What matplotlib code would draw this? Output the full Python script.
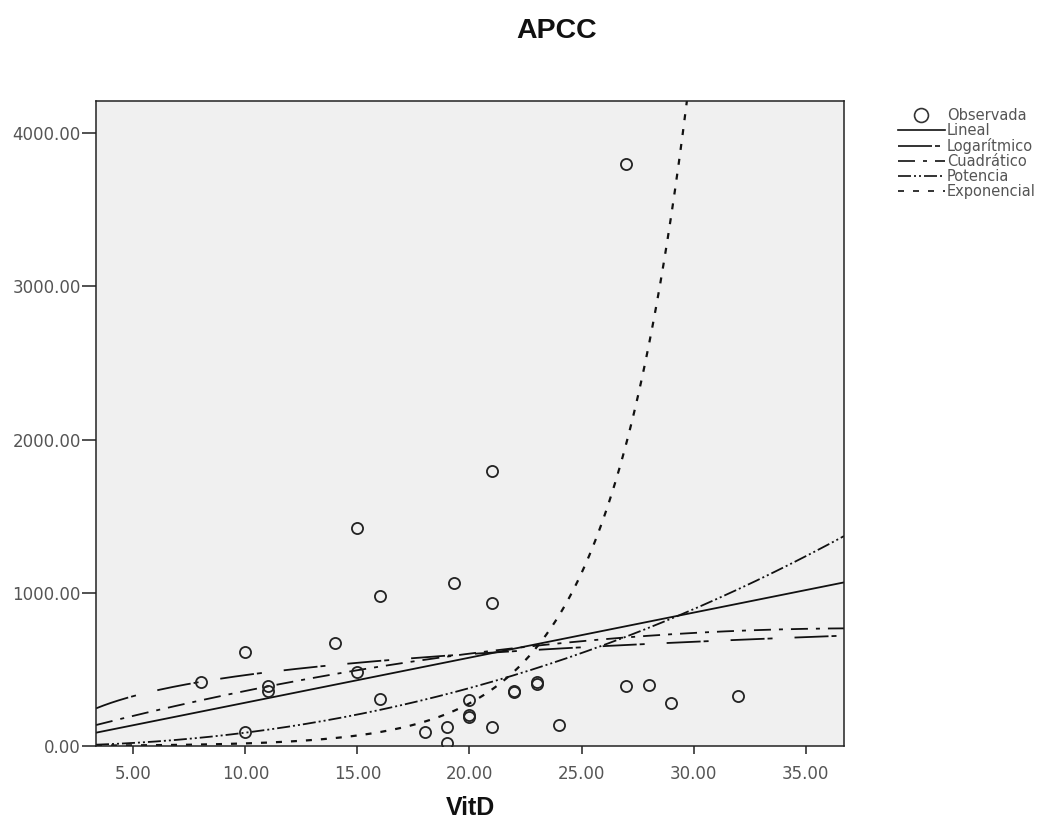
import numpy as np
import matplotlib
matplotlib.use("Agg")
import matplotlib.pyplot as plt
from matplotlib.lines import Line2D
from matplotlib.ticker import FormatStrFormatter

# ---------------- data ----------------
title = "APCC"
x_label = "VitD"
vitd = [8, 10, 10, 11, 11, 14, 15, 15, 16, 16, 18, 19, 19, 19.3, 20, 20, 20,
        21, 21, 21, 22, 22, 23, 23, 24, 27, 27, 28, 29, 32]
apcc = [418, 614, 91, 392, 359, 674, 485, 1423, 307, 980, 94, 126, 22, 1066,
        300, 202, 187, 1795, 936, 126, 359, 350, 415, 405, 137, 392, 3799,
        398, 283, 328]

# fitted model coefficients
lin_coef = [-11.2, 29.4]            # a + b x
log_coef = [7.0, 198.0]             # a + b ln x
quad_coef = [7.3, 40.64, -0.5426]   # c0 + c1 x + c2 x^2
pow_coef = [0.66, 2.12]             # a x^b
exp_coef = [1.03, 0.28]             # a e^(b x)

legend_labels = ["Observada", "Lineal", "Logarítmico", "Cuadrático",
                 "Potencia", "Exponencial"]
x_ticks = [5, 10, 15, 20, 25, 30, 35]
y_ticks = [0, 1000, 2000, 3000, 4000]
x_lim = (3.336, 36.71)
y_lim = (0, 4211)

# ---------------- figure ----------------
plt.rcParams['lines.scale_dashes'] = False
fig = plt.figure(figsize=(10.6, 8.22), dpi=100)
ax = fig.add_axes([96 / 1060, 1 - 746 / 822, 748 / 1060, 645 / 822])
ax.set_facecolor("#F0F0F0")

xs = np.linspace(x_lim[0], x_lim[1], 400)
px = 0.72  # px -> pt
lw = 1.3

y_lin = lin_coef[0] + lin_coef[1] * xs
y_log = log_coef[0] + log_coef[1] * np.log(xs)
y_quad = quad_coef[0] + quad_coef[1] * xs + quad_coef[2] * xs ** 2
y_pow = pow_coef[0] * xs ** pow_coef[1]
y_exp = exp_coef[0] * np.exp(exp_coef[1] * xs)

styles = {
    "Lineal": "-",
    "Logarítmico": (0, [d * px for d in (34, 3, 5, 22)]),
    "Cuadrático": (0, [d * px for d in (17, 8, 4, 8)]),
    "Potencia": (0, [d * px for d in (13, 3, 2, 3, 2, 3)]),
    "Exponencial": (0, [d * px for d in (6, 9)]),
}

curves = [("Lineal", y_lin), ("Logarítmico", y_log), ("Cuadrático", y_quad),
          ("Potencia", y_pow), ("Exponencial", y_exp)]

ax.plot(vitd, apcc, linestyle="none", marker="o", markersize=8,
        markerfacecolor="none", markeredgecolor="#222222",
        markeredgewidth=1.3, zorder=3)
for name, yv in curves:
    lwid = 1.6 if name == "Exponencial" else lw
    ax.plot(xs, yv, color="#111111", linestyle=styles[name], linewidth=lwid,
            zorder=2)

ax.set_xlim(*x_lim)
ax.set_ylim(*y_lim)
ax.set_xticks(x_ticks)
ax.set_yticks(y_ticks)
ax.xaxis.set_major_formatter(FormatStrFormatter("%.2f"))
ax.yaxis.set_major_formatter(FormatStrFormatter("%.2f"))

for sp in ax.spines.values():
    sp.set_linewidth(1.1)
    sp.set_color("#222222")

ax.tick_params(axis="x", direction="out", length=6, width=1.1,
               colors="#222222", labelcolor="#555555", labelsize=12, pad=8)
ax.tick_params(axis="y", direction="out", length=10, width=1.1,
               colors="#222222", labelcolor="#555555", labelsize=12, pad=1)
for lab in ax.get_xticklabels() + ax.get_yticklabels():
    lab.set_fontfamily("DejaVu Sans")

ax.set_xlabel(x_label, fontfamily="Liberation Sans", fontweight="bold",
              fontsize=18, color="#111111")
ax.xaxis.label.set_va("center")
ax.xaxis.set_label_coords(0.5, -61.7 / 645)

fig.text(556.5 / 1060, 1 - 31 / 822, title, ha="center", va="center",
         fontfamily="Liberation Sans", fontweight="bold", fontsize=20.5,
         color="#111111")

# legend
handles = [Line2D([], [], linestyle="none", marker="o", markersize=10,
                  markerfacecolor="none", markeredgecolor="#333333",
                  markeredgewidth=1.2)]
for name, _ in curves:
    handles.append(Line2D([], [], color="#111111", linestyle=styles[name],
                          linewidth=1.2))
leg = fig.legend(handles, legend_labels, loc="upper left",
                 bbox_to_anchor=(898 / 1060, 1 - 108 / 822),
                 frameon=False, borderpad=0, borderaxespad=0,
                 handlelength=3.2, handletextpad=0.15, labelspacing=0.0,
                 prop={"family": "DejaVu Sans", "size": 10.5})
for t in leg.get_texts():
    t.set_color("#555555")

fig.savefig("out.png", dpi=100, facecolor="white")
